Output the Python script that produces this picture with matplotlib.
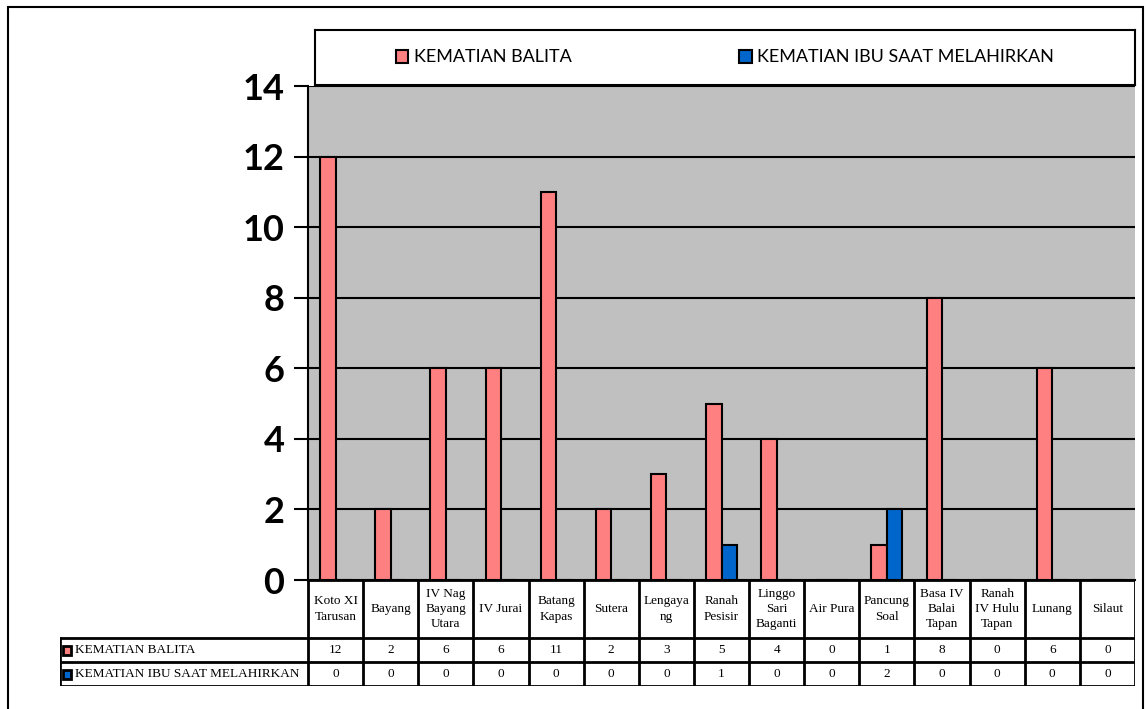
import matplotlib
matplotlib.use("Agg")
import matplotlib.pyplot as plt
from matplotlib.patches import Patch, Rectangle

categories = ["Koto XI\nTarusan", "Bayang", "IV Nag\nBayang\nUtara", "IV Jurai", "Batang\nKapas",
              "Sutera", "Lengaya\nng", "Ranah\nPesisir", "Linggo\nSari\nBaganti", "Air Pura",
              "Pancung\nSoal", "Basa IV\nBalai\nTapan", "Ranah\nIV Hulu\nTapan", "Lunang", "Silaut"]
balita = [12, 2, 6, 6, 11, 2, 3, 5, 4, 0, 1, 8, 0, 6, 0]
ibu = [0, 0, 0, 0, 0, 0, 0, 1, 0, 0, 2, 0, 0, 0, 0]
series_names = ["KEMATIAN BALITA", "KEMATIAN IBU SAAT MELAHIRKAN"]
yticks = [0, 2, 4, 6, 8, 10, 12, 14]

PINK = "#FF8080"
BLUE = "#0066CC"
W, H = 1147, 709
fig = plt.figure(figsize=(W / 100, H / 100), dpi=100)

def fx(px): return px / W
def fy(py): return 1 - py / H

# outer border (bottom edge lies outside the image, as in the reference)
fig.patches.append(Rectangle((fx(8), fy(720)), fx(1143) - fx(8), fy(7) - fy(720),
                             transform=fig.transFigure, fill=False, ec="black", lw=1.5))

L, R, T, B = 308, 1135, 86, 580
ax = fig.add_axes([fx(L), fy(B), fx(R) - fx(L), fy(T) - fy(B)])
ax.set_facecolor("#C0C0C0")
n = len(categories)
x = list(range(n))
bw = 0.28
ax.bar([i - bw / 2 for i in x], balita, width=bw, color=PINK, edgecolor="black", linewidth=1.5, zorder=3)
ax.bar([i + bw / 2 for i in x], ibu, width=bw, color=BLUE, edgecolor="black", linewidth=1.5, zorder=3)
ax.set_xlim(-0.5, n - 0.5)
ax.set_ylim(0, 14)
ax.set_yticks(yticks)
ax.set_yticklabels([str(v) for v in yticks], fontsize=26, fontweight="bold", family=["Lato", "DejaVu Sans"])
ax.tick_params(axis="y", length=10, width=1.5, pad=7)
ax.set_xticks([])
for v in yticks[1:]:
    ax.axhline(v, color="black", lw=1.5, zorder=1)
for s in ["top", "right"]:
    ax.spines[s].set_visible(False)
ax.spines["left"].set_linewidth(1.5)
ax.spines["bottom"].set_linewidth(1.5)

# legend box
lax = fig.add_axes([fx(315), fy(85), fx(1135) - fx(315), fy(30) - fy(85)])
lax.set_xticks([]); lax.set_yticks([])
for s in lax.spines.values():
    s.set_linewidth(1.5)
handles = [Patch(facecolor=PINK, edgecolor="black", lw=1.5), Patch(facecolor=BLUE, edgecolor="black", lw=1.5)]
lax.legend(handles, series_names, loc="center", ncol=2, frameon=False,
           prop={"family": ["Lato", "DejaVu Sans"], "size": 13},
           handlelength=0.7, handleheight=0.7, handletextpad=0.3, columnspacing=9.3)

# data table
TL, TT, TB = 60, 580, 686
tax = fig.add_axes([fx(TL), fy(TB), fx(R) - fx(TL), fy(TT) - fy(TB)])
cw = (R - L) / n
lab_w = (L - TL) / cw
tax.set_xlim(-0.5 - lab_w, n - 0.5)
row_h = [58, 24, 24]
tot = sum(row_h)
tax.set_ylim(0, tot)
tax.axis("off")
y_top = tot
y_hdr = tot - row_h[0]
y_r1 = y_hdr - row_h[1]
y_r2 = 0
lw = 2
serif = ["Liberation Serif", "DejaVu Serif"]
for i in range(n + 1):
    tax.plot([i - 0.5, i - 0.5], [y_r2, y_top], color="black", lw=lw, solid_capstyle="projecting")
tax.plot([-0.5 - lab_w, -0.5 - lab_w], [y_r2, y_hdr], color="black", lw=lw)
tax.plot([-0.5, n - 0.5], [y_top, y_top], color="black", lw=lw)
for yy in [y_hdr, y_r1, y_r2]:
    tax.plot([-0.5 - lab_w, n - 0.5], [yy, yy], color="black", lw=lw, solid_capstyle="projecting")
for i, c in enumerate(categories):
    tax.text(i, (y_top + y_hdr) / 2, c, ha="center", va="center", fontsize=9.5, family=serif, linespacing=1.35)
    tax.text(i, (y_hdr + y_r1) / 2, str(balita[i]), ha="center", va="center", fontsize=9.5, family=serif)
    tax.text(i, (y_r1 + y_r2) / 2, str(ibu[i]), ha="center", va="center", fontsize=9.5, family=serif)
for k, (name, col) in enumerate(zip(series_names, [PINK, BLUE])):
    yc = (y_hdr + y_r1) / 2 if k == 0 else (y_r1 + y_r2) / 2
    tax.add_patch(Rectangle((-0.5 - lab_w + 0.05, yc - 4.5), 0.15, 9, facecolor=col, edgecolor="black", lw=2))
    tax.text(-0.5 - lab_w + 0.27, yc, name, ha="left", va="center", fontsize=9.5, family=serif)

fig.savefig("out.png", dpi=100)
